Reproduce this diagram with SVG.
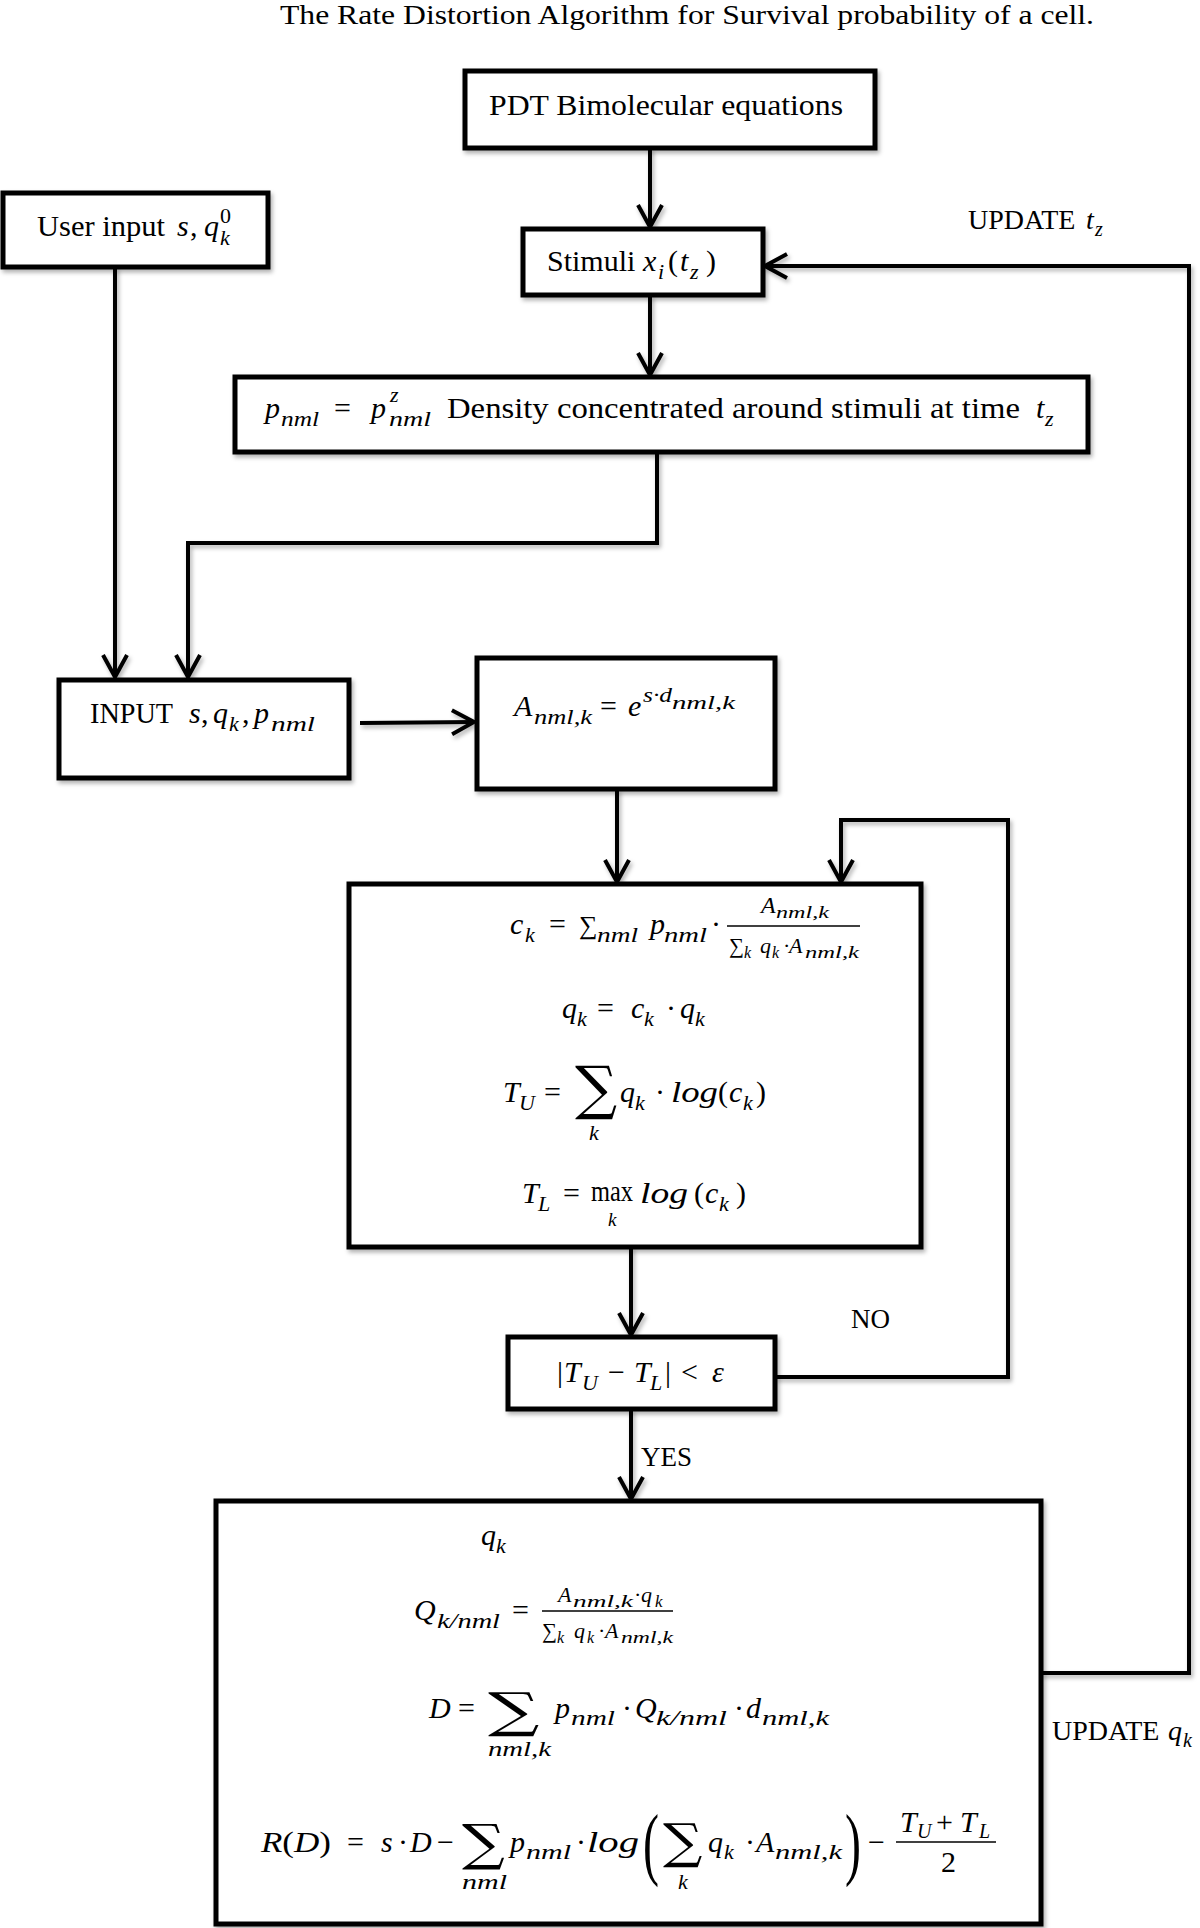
<svg xmlns="http://www.w3.org/2000/svg" width="1200" height="1928" viewBox="0 0 1200 1928">
<defs>
<style>
.tx{font-family:"Liberation Serif","Times New Roman",serif;font-size:30px;fill:#000}
.mi{font-style:italic}
.sb{font-size:22px}
.ss{font-size:17px}
.op{font-family:"DejaVu Serif",serif;fill:#000}
.box{fill:#fff;stroke:#000;stroke-width:5}
.cn{fill:none;stroke:#000;stroke-width:4;stroke-linejoin:miter}
.fl{stroke:#000;stroke-width:1.6}
</style>
<filter id="sh" filterUnits="userSpaceOnUse" x="0" y="0" width="1200" height="1928">
<feDropShadow dx="2" dy="3" stdDeviation="2" flood-color="#000" flood-opacity="0.3"/>
</filter>
<marker id="ah" markerUnits="userSpaceOnUse" markerWidth="28" markerHeight="28" viewBox="0 0 28 28" refX="25" refY="14" orient="auto">
<path d="M3,2 L25,14 L3,26" fill="none" stroke="#000" stroke-width="4"/>
</marker>
</defs>
<rect width="1200" height="1928" fill="#fff"/>

<text class="tx" x="687" y="24" text-anchor="middle" textLength="814" lengthAdjust="spacingAndGlyphs" style="font-size:28px">The Rate Distortion Algorithm for Survival probability of a cell.</text>

<g id="connectors" filter="url(#sh)">
<path class="cn" d="M650,148 V227" marker-end="url(#ah)"/>
<path class="cn" d="M650,295 V375" marker-end="url(#ah)"/>
<path class="cn" d="M657,452 V543 H188 V677" marker-end="url(#ah)"/>
<path class="cn" d="M115,267 V677" marker-end="url(#ah)"/>
<path class="cn" d="M360,723 L474,722" stroke-width="6" marker-end="url(#ah)"/>
<path class="cn" d="M617,789 V882" marker-end="url(#ah)"/>
<path class="cn" d="M631,1247 V1335" marker-end="url(#ah)"/>
<path class="cn" d="M775,1377 H1008 V820 H841 V882" marker-end="url(#ah)"/>
<path class="cn" d="M631,1409 V1499" marker-end="url(#ah)"/>
<path class="cn" d="M1041,1673 H1189 V266 H765" marker-end="url(#ah)"/>
</g>

<g id="n_pdt">
<rect class="box" x="465" y="71" width="410" height="77" filter="url(#sh)"/>
<text class="tx" x="489" y="115" textLength="354" lengthAdjust="spacingAndGlyphs">PDT Bimolecular equations</text>
</g>

<g id="n_user">
<rect class="box" x="3" y="193" width="265" height="74" filter="url(#sh)"/>
<text class="tx" x="37" y="236" textLength="128" lengthAdjust="spacingAndGlyphs">User input</text>
<text class="tx mi" x="177" y="236">s</text>
<text class="tx" x="190" y="236">,</text>
<text class="tx mi" x="204" y="236">q</text>
<text class="tx sb" x="220" y="223">0</text>
<text class="tx sb mi" x="220" y="245">k</text>
</g>

<g id="n_stimuli">
<rect class="box" x="523" y="229" width="240" height="66" filter="url(#sh)"/>
<text class="tx" x="547" y="271">Stimuli</text>
<text class="tx mi" x="643" y="271">x</text>
<text class="tx sb mi" x="658" y="279">i</text>
<text class="tx" x="668" y="271">(</text>
<text class="tx mi" x="680" y="271">t</text>
<text class="tx sb mi" x="690" y="279">z</text>
<text class="tx" x="706" y="271">)</text>
</g>

<g id="n_density">
<rect class="box" x="235" y="377" width="853" height="75" filter="url(#sh)"/>
<text class="tx mi" x="265" y="418">p</text>
<text class="tx sb mi" x="281" y="426" textLength="38" lengthAdjust="spacingAndGlyphs">nml</text>
<text class="tx" x="334" y="418">=</text>
<text class="tx mi" x="371" y="418">p</text>
<text class="tx sb mi" x="390" y="402">z</text>
<text class="tx sb mi" x="389" y="426" textLength="42" lengthAdjust="spacingAndGlyphs">nml</text>
<text class="tx" x="447" y="418" textLength="573" lengthAdjust="spacingAndGlyphs">Density concentrated around stimuli at time</text>
<text class="tx mi" x="1036" y="418">t</text>
<text class="tx sb mi" x="1045" y="426">z</text>
</g>

<g id="n_input">
<rect class="box" x="59" y="680" width="290" height="98" filter="url(#sh)"/>
<text class="tx" x="90" y="723" textLength="83" lengthAdjust="spacingAndGlyphs">INPUT</text>
<text class="tx mi" x="189" y="723">s</text>
<text class="tx" x="201" y="723">,</text>
<text class="tx mi" x="213" y="723">q</text>
<text class="tx sb mi" x="229" y="731">k</text>
<text class="tx" x="242" y="723">,</text>
<text class="tx mi" x="254" y="723">p</text>
<text class="tx sb mi" x="271" y="731" textLength="44" lengthAdjust="spacingAndGlyphs">nml</text>
</g>

<g id="n_affinity">
<rect class="box" x="477" y="658" width="298" height="131" filter="url(#sh)"/>
<text class="tx mi" x="514" y="716">A</text>
<text class="tx sb mi" x="534" y="724" textLength="58" lengthAdjust="spacingAndGlyphs">nml,k</text>
<text class="tx" x="600" y="716">=</text>
<text class="tx mi" x="628" y="716">e</text>
<text class="tx sb mi" x="643" y="702" textLength="29" lengthAdjust="spacingAndGlyphs">s·d</text>
<text class="tx mi" x="672" y="709" style="font-size:18px" textLength="63" lengthAdjust="spacingAndGlyphs">nml,k</text>
</g>

<g id="n_iterate">
<rect class="box" x="349" y="884" width="572" height="363" filter="url(#sh)"/>
<text class="tx mi" x="510" y="934">c</text>
<text class="tx sb mi" x="525" y="942">k</text>
<text class="tx" x="549" y="934">=</text>
<text class="tx" x="579" y="934" style="font-size:26px">∑</text>
<text class="tx sb mi" x="597" y="942" textLength="41" lengthAdjust="spacingAndGlyphs">nml</text>
<text class="tx mi" x="650" y="934">p</text>
<text class="tx sb mi" x="664" y="942" textLength="43" lengthAdjust="spacingAndGlyphs">nml</text>
<text class="tx" x="711" y="934">·</text>
<line class="fl" x1="727" y1="926" x2="860" y2="926"/>
<text class="tx mi" x="761" y="913" style="font-size:24px">A</text>
<text class="tx mi" x="776" y="918" style="font-size:17px" textLength="53" lengthAdjust="spacingAndGlyphs">nml,k</text>
<text class="tx" x="729" y="953" style="font-size:21px">∑</text>
<text class="tx mi" x="744" y="958" style="font-size:16px">k</text>
<text class="tx mi" x="760" y="953" style="font-size:22px">q</text>
<text class="tx mi" x="772" y="958" style="font-size:16px">k</text>
<text class="tx" x="783" y="953" style="font-size:22px">·</text>
<text class="tx mi" x="789" y="953" style="font-size:22px">A</text>
<text class="tx mi" x="805" y="958" style="font-size:17px" textLength="54" lengthAdjust="spacingAndGlyphs">nml,k</text>
<text class="tx mi" x="562" y="1018">q</text>
<text class="tx sb mi" x="577" y="1026">k</text>
<text class="tx" x="597" y="1018">=</text>
<text class="tx mi" x="631" y="1018">c</text>
<text class="tx sb mi" x="644" y="1026">k</text>
<text class="tx" x="666" y="1018">·</text>
<text class="tx mi" x="680" y="1018">q</text>
<text class="tx sb mi" x="695" y="1026">k</text>
<text class="tx mi" x="503" y="1102">T</text>
<text class="tx sb mi" x="519" y="1110">U</text>
<text class="tx" x="544" y="1102">=</text>
<text class="op" x="575" y="1108" style="font-size:59px">∑</text>
<text class="tx sb mi" x="589" y="1140">k</text>
<text class="tx mi" x="620" y="1102">q</text>
<text class="tx sb mi" x="635" y="1110">k</text>
<text class="tx" x="655" y="1102">·</text>
<text class="tx mi" x="671" y="1102" textLength="47" lengthAdjust="spacingAndGlyphs">log</text>
<text class="tx" x="718" y="1102">(</text>
<text class="tx mi" x="729" y="1102">c</text>
<text class="tx sb mi" x="743" y="1110">k</text>
<text class="tx" x="756" y="1102">)</text>
<text class="tx mi" x="522" y="1203">T</text>
<text class="tx sb mi" x="538" y="1211">L</text>
<text class="tx" x="563" y="1203">=</text>
<text class="tx" x="591" y="1201" textLength="42" lengthAdjust="spacingAndGlyphs">max</text>
<text class="tx mi" x="608" y="1226" style="font-size:19px">k</text>
<text class="tx mi" x="640" y="1203" textLength="48" lengthAdjust="spacingAndGlyphs">log</text>
<text class="tx" x="694" y="1203">(</text>
<text class="tx mi" x="705" y="1203">c</text>
<text class="tx sb mi" x="719" y="1211">k</text>
<text class="tx" x="736" y="1203">)</text>
</g>

<g id="n_check">
<rect class="box" x="508" y="1337" width="267" height="72" filter="url(#sh)"/>
<text class="tx" x="557" y="1382">|</text>
<text class="tx mi" x="564" y="1382">T</text>
<text class="tx sb mi" x="582" y="1390">U</text>
<text class="tx" x="608" y="1382">−</text>
<text class="tx mi" x="634" y="1382">T</text>
<text class="tx sb mi" x="650" y="1390">L</text>
<text class="tx" x="665" y="1382">|</text>
<text class="tx" x="681" y="1382">&lt;</text>
<text class="tx mi" x="712" y="1382">ε</text>
</g>

<g id="n_result">
<rect class="box" x="216" y="1501" width="825" height="423" filter="url(#sh)"/>
<text class="tx mi" x="481" y="1545">q</text>
<text class="tx sb mi" x="496" y="1553">k</text>
<text class="tx mi" x="414" y="1620">Q</text>
<text class="tx sb mi" x="437" y="1628" textLength="63" lengthAdjust="spacingAndGlyphs">k/nml</text>
<text class="tx" x="512" y="1620">=</text>
<line class="fl" x1="542" y1="1611" x2="673" y2="1611"/>
<text class="tx mi" x="558" y="1602" style="font-size:22px">A</text>
<text class="tx mi" x="573" y="1607" style="font-size:17px" textLength="60" lengthAdjust="spacingAndGlyphs">nml,k</text>
<text class="tx" x="634" y="1602" style="font-size:22px">·</text>
<text class="tx mi" x="641" y="1602" style="font-size:22px">q</text>
<text class="tx mi" x="655" y="1607" style="font-size:17px">k</text>
<text class="tx" x="542" y="1638" style="font-size:21px">∑</text>
<text class="tx mi" x="557" y="1643" style="font-size:16px">k</text>
<text class="tx mi" x="574" y="1638" style="font-size:22px">q</text>
<text class="tx mi" x="587" y="1643" style="font-size:16px">k</text>
<text class="tx" x="598" y="1638" style="font-size:22px">·</text>
<text class="tx mi" x="605" y="1638" style="font-size:22px">A</text>
<text class="tx mi" x="621" y="1643" style="font-size:17px" textLength="52" lengthAdjust="spacingAndGlyphs">nml,k</text>
<text class="tx mi" x="429" y="1718">D</text>
<text class="tx" x="458" y="1718">=</text>
<text class="op" transform="translate(488,1727) scale(1.5,1)" style="font-size:48px">∑</text>
<text class="tx sb mi" x="488" y="1756" textLength="63" lengthAdjust="spacingAndGlyphs">nml,k</text>
<text class="tx mi" x="555" y="1718">p</text>
<text class="tx sb mi" x="571" y="1725" textLength="44" lengthAdjust="spacingAndGlyphs">nml</text>
<text class="tx" x="622" y="1718">·</text>
<text class="tx mi" x="635" y="1718">Q</text>
<text class="tx sb mi" x="656" y="1725" textLength="71" lengthAdjust="spacingAndGlyphs">k/nml</text>
<text class="tx" x="734" y="1718">·</text>
<text class="tx mi" x="746" y="1718">d</text>
<text class="tx sb mi" x="762" y="1725" textLength="67" lengthAdjust="spacingAndGlyphs">nml,k</text>
<text class="tx" x="261" y="1852" textLength="70" lengthAdjust="spacingAndGlyphs"><tspan class="mi">R</tspan>(<tspan class="mi">D</tspan>)</text>
<text class="tx" x="347" y="1852">=</text>
<text class="tx mi" x="381" y="1852">s</text>
<text class="tx" x="398" y="1852">·</text>
<text class="tx mi" x="410" y="1852">D</text>
<text class="tx" x="437" y="1852">−</text>
<text class="op" transform="translate(462,1860) scale(1.2,1)" style="font-size:50px">∑</text>
<text class="tx sb mi" x="462" y="1889" textLength="45" lengthAdjust="spacingAndGlyphs">nml</text>
<text class="tx mi" x="510" y="1852">p</text>
<text class="tx sb mi" x="526" y="1859" textLength="45" lengthAdjust="spacingAndGlyphs">nml</text>
<text class="tx" x="576" y="1852">·</text>
<text class="tx mi" x="587" y="1852" textLength="52" lengthAdjust="spacingAndGlyphs">log</text>
<text class="tx" transform="translate(643,1870) scale(0.6,1)" style="font-size:80px">(</text>
<text class="op" transform="translate(663,1858) scale(1.15,1)" style="font-size:48px">∑</text>
<text class="tx sb mi" x="678" y="1889">k</text>
<text class="tx mi" x="708" y="1852">q</text>
<text class="tx sb mi" x="724" y="1859">k</text>
<text class="tx" x="745" y="1852">·</text>
<text class="tx mi" x="756" y="1852">A</text>
<text class="tx sb mi" x="775" y="1859" textLength="67" lengthAdjust="spacingAndGlyphs">nml,k</text>
<text class="tx" transform="translate(845,1870) scale(0.6,1)" style="font-size:80px">)</text>
<text class="tx" x="868" y="1852">−</text>
<line class="fl" x1="896" y1="1842" x2="996" y2="1842"/>
<text class="tx mi" x="900" y="1832">T</text>
<text class="tx mi" x="917" y="1838" style="font-size:20px">U</text>
<text class="tx" x="936" y="1832">+</text>
<text class="tx mi" x="960" y="1832">T</text>
<text class="tx mi" x="979" y="1838" style="font-size:20px">L</text>
<text class="tx" x="941" y="1872">2</text>
</g>

<g id="labels">
<text class="tx" x="968" y="229" style="font-size:28px">UPDATE</text>
<text class="tx mi" x="1086" y="229" style="font-size:28px">t</text>
<text class="tx mi" x="1095" y="236" style="font-size:20px">z</text>
<text class="tx" x="851" y="1328" style="font-size:27px">NO</text>
<text class="tx" x="641" y="1466" style="font-size:27px">YES</text>
<text class="tx" x="1052" y="1740" style="font-size:28px">UPDATE</text>
<text class="tx mi" x="1168" y="1740" style="font-size:28px">q</text>
<text class="tx mi" x="1183" y="1747" style="font-size:20px">k</text>
</g>
</svg>
